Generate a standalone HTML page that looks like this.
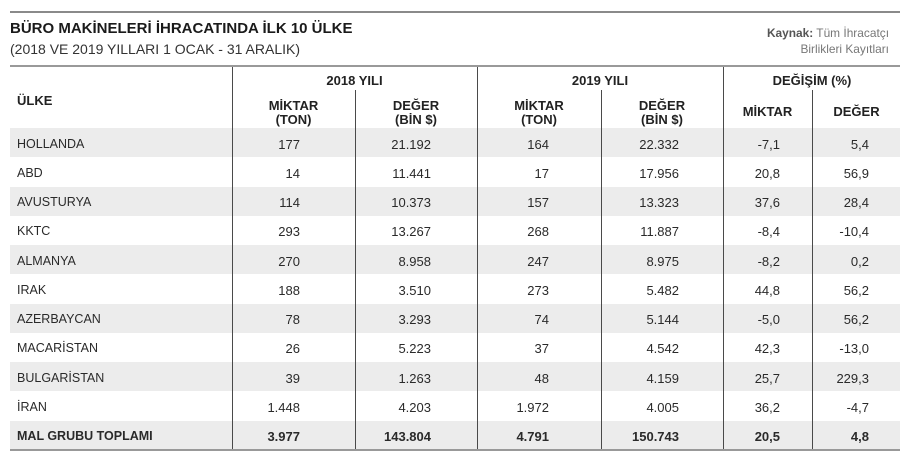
<!DOCTYPE html>
<html><head><meta charset="utf-8">
<style>
*{margin:0;padding:0;box-sizing:border-box}
html,body{width:918px;height:468px;background:#fff;overflow:hidden}
body{position:relative;font-family:"Liberation Sans",sans-serif;color:#2a2a2a}
.a{position:absolute;white-space:nowrap}
.hl{position:absolute;left:10px;width:890px;background:#8a8a8a}
.vl{position:absolute;width:1px;background:#4a4a4a}
.band{position:absolute;left:10px;width:890px;height:29.27px;background:#ececec}
.row{position:absolute;left:0;width:918px;height:29.27px}
.row span{position:absolute;top:1.5px;line-height:29.27px;font-size:13px}
.row .n{left:17px;font-size:12.5px}
.h{font-weight:bold;font-size:13px;text-align:center;line-height:13.5px;color:#222}
</style></head><body>
<div class="hl" style="top:11px;height:2px"></div>
<div class="a" style="left:10px;top:20px;font-size:15px;font-weight:bold;color:#1a1a1a;line-height:18px">BÜRO MAKİNELERİ İHRACATINDA İLK 10 ÜLKE</div>
<div class="a" style="left:10px;top:41px;font-size:14px;color:#333;line-height:17px">(2018 VE 2019 YILLARI 1 OCAK - 31 ARALIK)</div>
<div class="a" style="right:29px;top:26px;font-size:11.9px;color:#777;line-height:14px;text-align:right"><b style="color:#555">Kaynak:</b> Tüm İhracatçı<br><span style="line-height:18px">Birlikleri Kayıtları</span></div>
<div class="hl" style="top:65px;height:2px;background:#999"></div>

<div class="band" style="top:128px"></div>
<div class="band" style="top:186.54px"></div>
<div class="band" style="top:245.08px"></div>
<div class="band" style="top:303.62px"></div>
<div class="band" style="top:362.16px"></div>
<div class="band" style="top:420.7px"></div>
<div class="hl" style="top:449px;height:2px;background:#999"></div>

<div class="vl" style="left:232px;top:67px;height:382px"></div>
<div class="vl" style="left:477px;top:67px;height:382px"></div>
<div class="vl" style="left:723px;top:67px;height:382px"></div>
<div class="vl" style="left:355px;top:90px;height:359px"></div>
<div class="vl" style="left:601px;top:90px;height:359px"></div>
<div class="vl" style="left:812px;top:90px;height:359px"></div>

<div class="a h" style="left:17px;top:94px;text-align:left">ÜLKE</div>
<div class="a h" style="left:232px;width:245px;top:74px">2018 YILI</div>
<div class="a h" style="left:477px;width:246px;top:74px">2019 YILI</div>
<div class="a h" style="left:723px;width:178px;top:74px">DEĞİŞİM (%)</div>
<div class="a h" style="left:232px;width:123px;top:99px">MİKTAR<br>(TON)</div>
<div class="a h" style="left:355px;width:122px;top:99px">DEĞER<br>(BİN $)</div>
<div class="a h" style="left:477px;width:124px;top:99px">MİKTAR<br>(TON)</div>
<div class="a h" style="left:601px;width:122px;top:99px">DEĞER<br>(BİN $)</div>
<div class="a h" style="left:723px;width:89px;top:105px">MİKTAR</div>
<div class="a h" style="left:812px;width:89px;top:105px">DEĞER</div>

<div class="row" style="top:128px"><span class="n">HOLLANDA</span><span style="right:618px">177</span><span style="right:487px">21.192</span><span style="right:369px">164</span><span style="right:239px">22.332</span><span style="right:138px">-7,1</span><span style="right:49px">5,4</span></div>
<div class="row" style="top:157.27px"><span class="n">ABD</span><span style="right:618px">14</span><span style="right:487px">11.441</span><span style="right:369px">17</span><span style="right:239px">17.956</span><span style="right:138px">20,8</span><span style="right:49px">56,9</span></div>
<div class="row" style="top:186.54px"><span class="n">AVUSTURYA</span><span style="right:618px">114</span><span style="right:487px">10.373</span><span style="right:369px">157</span><span style="right:239px">13.323</span><span style="right:138px">37,6</span><span style="right:49px">28,4</span></div>
<div class="row" style="top:215.81px"><span class="n">KKTC</span><span style="right:618px">293</span><span style="right:487px">13.267</span><span style="right:369px">268</span><span style="right:239px">11.887</span><span style="right:138px">-8,4</span><span style="right:49px">-10,4</span></div>
<div class="row" style="top:245.08px"><span class="n">ALMANYA</span><span style="right:618px">270</span><span style="right:487px">8.958</span><span style="right:369px">247</span><span style="right:239px">8.975</span><span style="right:138px">-8,2</span><span style="right:49px">0,2</span></div>
<div class="row" style="top:274.35px"><span class="n">IRAK</span><span style="right:618px">188</span><span style="right:487px">3.510</span><span style="right:369px">273</span><span style="right:239px">5.482</span><span style="right:138px">44,8</span><span style="right:49px">56,2</span></div>
<div class="row" style="top:303.62px"><span class="n">AZERBAYCAN</span><span style="right:618px">78</span><span style="right:487px">3.293</span><span style="right:369px">74</span><span style="right:239px">5.144</span><span style="right:138px">-5,0</span><span style="right:49px">56,2</span></div>
<div class="row" style="top:332.89px"><span class="n">MACARİSTAN</span><span style="right:618px">26</span><span style="right:487px">5.223</span><span style="right:369px">37</span><span style="right:239px">4.542</span><span style="right:138px">42,3</span><span style="right:49px">-13,0</span></div>
<div class="row" style="top:362.16px"><span class="n">BULGARİSTAN</span><span style="right:618px">39</span><span style="right:487px">1.263</span><span style="right:369px">48</span><span style="right:239px">4.159</span><span style="right:138px">25,7</span><span style="right:49px">229,3</span></div>
<div class="row" style="top:391.43px"><span class="n">İRAN</span><span style="right:618px">1.448</span><span style="right:487px">4.203</span><span style="right:369px">1.972</span><span style="right:239px">4.005</span><span style="right:138px">36,2</span><span style="right:49px">-4,7</span></div>
<div class="row" style="top:420.7px;font-weight:bold"><span class="n" style="font-weight:bold">MAL GRUBU TOPLAMI</span><span style="right:618px;font-weight:bold">3.977</span><span style="right:487px;font-weight:bold">143.804</span><span style="right:369px;font-weight:bold">4.791</span><span style="right:239px;font-weight:bold">150.743</span><span style="right:138px;font-weight:bold">20,5</span><span style="right:49px;font-weight:bold">4,8</span></div>
</body></html>
